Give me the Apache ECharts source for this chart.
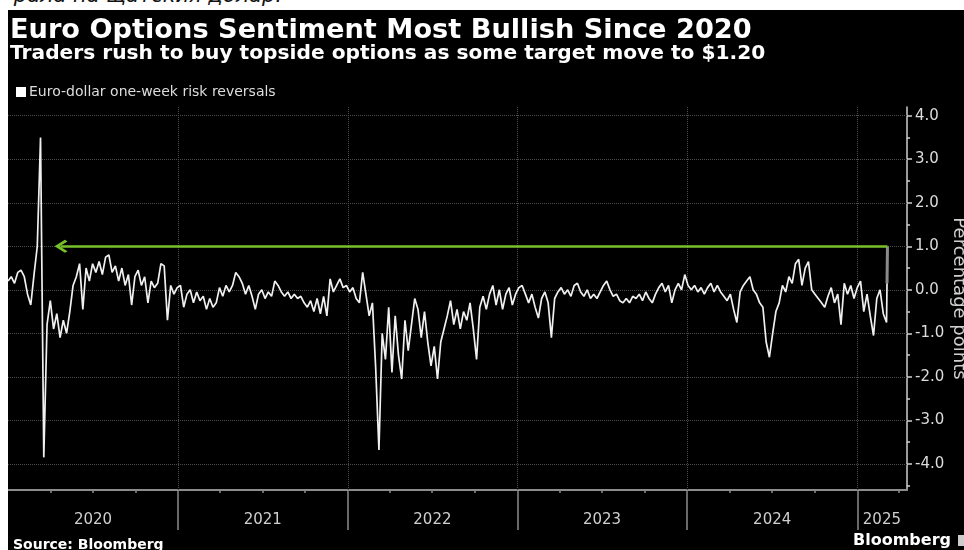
<!DOCTYPE html>
<html><head><meta charset="utf-8">
<script src="https://cdn.jsdelivr.net/npm/echarts@6/dist/echarts.min.js"></script>
<style>
html,body{margin:0;padding:0;background:#fff;width:964px;height:550px;overflow:hidden;position:relative;}
#note{position:absolute;right:682px;top:-17px;font:italic 21px 'DejaVu Sans';color:#111;white-space:nowrap;}
#chart{position:absolute;left:8px;top:10px;width:956px;height:540px;background:#000;}
</style></head>
<body>
<div id="note">рала на щатския долар.</div>
<div id="chart"></div>
<script>
// ---- data ----
const SERIES_NAME = 'Euro-dollar one-week risk reversals';
const START_DATE = '2020-01-01';      // first weekly observation
const STEP_DAYS = 7;                  // weekly observations
const VALUES_2020 = [0.2,0.3,0.15,0.4,0.45,0.3,-0.1,-0.35,0.35,1.0,3.5,-3.85,-0.8,-0.25,-0.9,-0.55,-1.1,-0.7,-1.0,-0.5,0.1,0.3,0.6,-0.45,0.5,0.2,0.6,0.4,0.65,0.35,0.75,0.8,0.4,0.55,0.2,0.5,0.1,0.35,-0.35,0.3,0.45,0.1,0.3,-0.3,0.2,0.05,0.15,0.6,0.55,-0.7,0.1,-0.1,0.05];
const VALUES_2021 = [0.1,-0.4,-0.1,0.0,-0.3,-0.05,-0.25,-0.15,-0.45,-0.2,-0.4,-0.3,0.05,-0.15,0.1,-0.05,0.1,0.4,0.3,0.15,-0.1,0.1,-0.15,-0.45,-0.1,0.0,-0.2,-0.05,-0.15,0.2,0.1,-0.05,-0.15,-0.05,-0.2,-0.1,-0.2,-0.15,-0.3,-0.4,-0.25,-0.5,-0.2,-0.55,-0.15,-0.6,0.25,-0.05,0.1,0.25,0.05,0.1];
const VALUES_2022 = [-0.05,0.05,-0.2,-0.3,0.4,-0.1,-0.6,-0.3,-1.8,-3.68,-1.0,-1.6,-0.4,-1.9,-0.6,-1.5,-2.05,-0.7,-1.4,-0.8,-0.2,-0.45,-1.1,-0.5,-1.2,-1.75,-1.3,-2.05,-1.2,-0.9,-0.6,-0.25,-0.8,-0.45,-0.9,-0.5,-0.7,-0.3,-0.9,-1.6,-0.4,-0.15,-0.45,-0.1,0.1,-0.35,0.0,-0.45,-0.1,0.05,-0.35,-0.1];
const VALUES_2023 = [0.05,0.1,-0.1,-0.3,-0.1,-0.4,-0.65,-0.2,-0.05,-0.3,-1.1,-0.2,-0.05,0.05,-0.1,0.0,-0.15,0.1,0.15,-0.05,-0.15,0.0,-0.2,-0.1,-0.2,-0.05,0.1,0.2,0.0,-0.15,-0.1,-0.25,-0.3,-0.2,-0.3,-0.15,-0.2,-0.1,-0.25,-0.05,-0.2,-0.3,-0.1,0.05,0.15,-0.05,0.1,-0.3,0.0,0.15,0.0,0.35];
const VALUES_2024 = [0.1,0.0,0.1,-0.05,0.05,-0.1,0.05,0.15,-0.05,0.1,-0.05,-0.15,-0.25,-0.1,-0.45,-0.75,-0.05,0.1,0.2,0.3,0.0,-0.1,-0.3,-0.4,-1.2,-1.55,-1.0,-0.5,-0.3,0.1,-0.05,0.3,0.15,0.6,0.7,0.1,0.5,0.65,0.0,-0.1,-0.2,-0.3,-0.4,-0.15,0.05,-0.3,-0.1,-0.8,0.15,-0.1,0.1,-0.2,0.05];
const VALUES_2025 = [0.2,-0.5,-0.1,-0.6,-1.05,-0.2,0.0,-0.55,-0.75];
const LAST_DATES = ['2025-03-06','2025-03-07'];   // latest intraday move (grey)
const LAST_VALUES = [0.15, 1.0];
const ARROW_FROM = '2020-04-24';
const ARROW_TO = '2025-03-07';
const ARROW_LEVEL = 1.0;
const AXIS_MIN_DATE = '2020-01-01';
const AXIS_MAX_DATE = '2025-04-18';
const YEAR_STARTS = ['2021-01-01','2022-01-01','2023-01-01','2024-01-01','2025-01-01'];
const QUARTER_TICKS = ['2020-04-01','2020-07-01','2020-10-01','2021-01-01','2021-04-01','2021-07-01','2021-10-01','2022-01-01','2022-04-01','2022-07-01','2022-10-01','2023-01-01','2023-04-01','2023-07-01','2023-10-01','2024-01-01','2024-04-01','2024-07-01','2024-10-01','2025-01-01','2025-04-01'];
const YEAR_LABEL_DATES = ['2020-07-02','2021-07-02','2022-07-02','2023-07-02','2024-07-02','2025-02-23'];
const YEAR_LABELS = ['2020','2021','2022','2023','2024','2025'];
const Y_MIN = -4.6, Y_MAX = 4.2;
const Y_TICKS = [-4,-3,-2,-1,0,1,2,3,4];
const Y_MINOR_TICKS = [-4.5,-3.5,-2.5,-1.5,-0.5,0.5,1.5,2.5,3.5];

// ---- build ----
function t(s){ const p = s.split('-').map(Number); return Date.UTC(p[0], p[1]-1, p[2]); }
const VALUES = [].concat(VALUES_2020, VALUES_2021, VALUES_2022, VALUES_2023, VALUES_2024, VALUES_2025);
const t0 = t(START_DATE);
const mainData = VALUES.map((v, i) => [t0 + i * STEP_DAYS * 86400000, v]);
mainData.push([t(LAST_DATES[0]), LAST_VALUES[0]]);
const lastData = LAST_DATES.map((d, i) => [t(d), LAST_VALUES[i]]);
const LABEL_TS = YEAR_LABEL_DATES.map(t);
const FONT = 'DejaVu Sans';
const GRID_COL = '#4d4d4d';
function yearOf(v){ const k = LABEL_TS.indexOf(v); return k >= 0 ? YEAR_LABELS[k] : String(new Date(v).getUTCFullYear()); }

const chart = echarts.init(document.getElementById('chart'), null, {renderer:'canvas'});
chart.setOption({
  animation: false,
  backgroundColor: '#000',
  grid: {left: 0, right: 57, top: 97, bottom: 60, containLabel: false, outerBoundsMode: 'none'},
  legend: {
    left: 8, top: 75, padding: 0, itemWidth: 10, itemHeight: 10, itemGap: 0, selectedMode: false,
    data: [{name: SERIES_NAME, icon: 'rect', itemStyle: {color: '#ffffff'}}],
    textStyle: {color: '#dddddd', fontSize: 14, fontFamily: FONT, padding: [0, 0, 0, -2]}
  },
  graphic: [
    {type:'text', x: 2, y: 21, silent: true, style: {text: 'Euro Options Sentiment Most Bullish Since 2020', fill:'#ffffff', fontSize: 27.2, fontWeight:'bold', fontFamily: FONT, verticalAlign:'middle'}},
    {type:'text', x: 2, y: 44, silent: true, style: {text: 'Traders rush to buy topside options as some target move to $1.20', fill:'#ffffff', fontSize: 20.2, fontWeight:'bold', fontFamily: FONT, verticalAlign:'middle'}},
    {type:'text', x: 5, y: 535, silent: true, style: {text: 'Source: Bloomberg', fill:'#ffffff', fontSize: 14, fontWeight:'bold', fontFamily: FONT, verticalAlign:'middle'}},
    {type:'text', x: 845, y: 531, silent: true, style: {text: 'Bloomberg', fill:'#ffffff', fontSize: 16, fontWeight:'bold', fontFamily: FONT, verticalAlign:'middle'}},
    {type:'rect', silent: true, shape: {x: 950, y: 525, width: 8, height: 11}, style: {fill:'#cccccc'}}
  ],
  xAxis: [
    {
      type: 'value', min: t(AXIS_MIN_DATE), max: t(AXIS_MAX_DATE), position: 'bottom',
      axisLine: {show: true, onZero: false, lineStyle: {color: '#8c8c8c', width: 2}},
      axisTick: {show: true, customValues: QUARTER_TICKS.map(t), length: 3, lineStyle: {color: '#8c8c8c', width: 1.5}},
      axisLabel: {show: true, customValues: LABEL_TS, formatter: yearOf, color: '#cfcfcf', fontSize: 15, fontFamily: FONT, margin: 23},
      splitLine: {show: false}
    },
    {
      type: 'value', min: t(AXIS_MIN_DATE), max: t(AXIS_MAX_DATE), position: 'bottom',
      axisLine: {show: false, onZero: false},
      axisTick: {show: true, customValues: YEAR_STARTS.map(t), length: 40, lineStyle: {color: '#8c8c8c', width: 1.5}},
      axisLabel: {show: false},
      splitLine: {show: false}
    }
  ],
  yAxis: [
    {
      type: 'value', position: 'right', min: Y_MIN, max: Y_MAX,
      axisLine: {show: true, onZero: false, lineStyle: {color: '#cfcfcf', width: 1.5}},
      axisTick: {show: true, customValues: Y_TICKS, length: 5, lineStyle: {color: '#cfcfcf', width: 1.5}},
      axisLabel: {show: true, customValues: Y_TICKS, formatter: v => v.toFixed(1), color: '#dcdcdc', fontSize: 15, fontFamily: FONT, margin: 8},
      splitLine: {show: false},
      name: 'Percentage points', nameLocation: 'middle', nameRotate: -90, nameGap: 43, nameMoveOverlap: false,
      nameTextStyle: {color: '#cfcfcf', fontSize: 18, fontFamily: FONT}
    },
    {
      type: 'value', position: 'right', min: Y_MIN, max: Y_MAX,
      axisLine: {show: false, onZero: false},
      axisTick: {show: true, customValues: Y_MINOR_TICKS, length: 3, lineStyle: {color: '#cfcfcf', width: 1.5}},
      axisLabel: {show: false},
      splitLine: {show: false}
    }
  ],
  series: [
    {
      name: 'latest', type: 'line', xAxisIndex: 0, yAxisIndex: 0, data: lastData,
      symbol: 'none', showSymbol: false, silent: true, z: 2,
      lineStyle: {color: '#8a8a8a', width: 3},
      markLine: {
        silent: true, symbol: ['none','none'], z: 1, animation: false,
        label: {show: false},
        lineStyle: {color: GRID_COL, type: 'dotted', width: 1},
        data: Y_TICKS.map(v => ({yAxis: v})).concat(YEAR_STARTS.map(d => ({xAxis: t(d)})))
      }
    },
    {
      name: SERIES_NAME, type: 'line', xAxisIndex: 0, yAxisIndex: 0, data: mainData,
      symbol: 'none', showSymbol: false, silent: true, z: 3,
      itemStyle: {color: '#ffffff'},
      lineStyle: {color: '#f0f0f0', width: 1.7},
      markLine: {
        silent: true, animation: false,
        symbol: ['path://M10,0 L20,10 L17.5,12.5 L10,5 L2.5,12.5 L0,10 Z', 'none'],
        symbolSize: [13, 13],
        label: {show: false},
        lineStyle: {color: '#78c12a', width: 2.5, type: 'solid'},
        itemStyle: {color: '#78c12a'},
        data: [[{coord: [t(ARROW_FROM), ARROW_LEVEL]}, {coord: [t(ARROW_TO), ARROW_LEVEL]}]]
      }
    }
  ]
});
</script>
</body></html>
